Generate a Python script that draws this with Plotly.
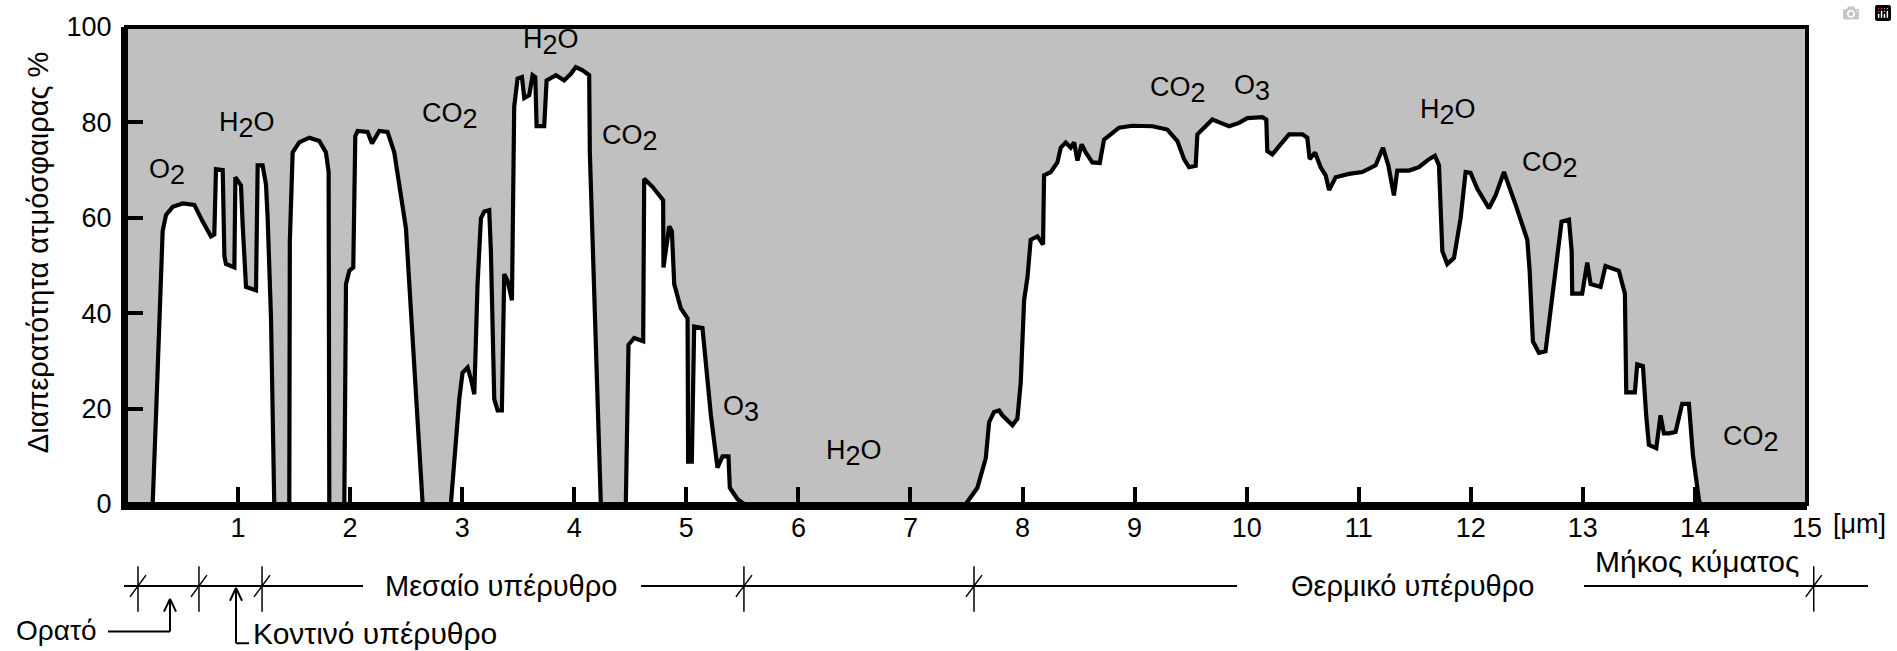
import plotly.graph_objects as go

# ---------------- data ----------------
# Atmospheric transmission (%) vs wavelength (µm), one list pair per window
band_a_um = [0.000, 0.238, 0.268, 0.298, 0.327, 0.357, 0.417, 0.506, 0.610, 0.684, 0.758, 0.788, 0.803, 0.863,
             0.878, 0.892, 0.967, 0.976, 1.026, 1.041, 1.071, 1.160, 1.175, 1.219, 1.249, 1.264, 1.294, 1.323]
band_a_pct = [0.0, 0.0, 18.6, 39.2, 57.2, 60.6, 62.3, 63.0, 62.7, 59.2, 56.1, 56.5, 70.2, 70.0,
              52.0, 50.3, 49.6, 68.5, 66.8, 58.5, 45.5, 44.8, 71.0, 71.0, 67.0, 60.0, 39.0, 0.0]

band_b_um = [1.457, 1.462, 1.487, 1.546, 1.636, 1.725, 1.784, 1.808, 1.814]
band_b_pct = [0.0, 55.0, 73.7, 75.8, 76.8, 76.1, 73.7, 69.6, 0.0]

band_c_um = [1.948, 1.963, 1.993, 2.028, 2.046, 2.067, 2.156, 2.195, 2.260, 2.334, 2.394, 2.468, 2.498, 2.647]
band_c_pct = [0.0, 46.1, 48.9, 49.6, 77.1, 78.2, 78.0, 75.6, 78.2, 78.0, 73.7, 62.7, 57.8, 0.0]

band_d_um = [2.899, 2.974, 3.003, 3.048, 3.078, 3.108, 3.137, 3.167, 3.197, 3.241, 3.256, 3.286, 3.316, 3.354,
             3.375, 3.405, 3.444, 3.464, 3.494, 3.533, 3.554, 3.598, 3.628, 3.652, 3.664, 3.732, 3.753, 3.836,
             3.910, 3.970, 4.014, 4.074, 4.133, 4.139, 4.237]
band_d_pct = [0.0, 22.0, 27.5, 28.6, 26.2, 23.0, 46.1, 59.9, 61.3, 61.6, 53.0, 22.0, 19.6, 19.6,
              48.2, 46.8, 42.7, 83.3, 89.2, 89.5, 85.1, 85.7, 89.9, 89.5, 79.2, 79.2, 88.8, 89.9,
              88.8, 90.2, 91.6, 90.9, 89.9, 73.7, 0.0]

band_e_um = [4.460, 4.484, 4.535, 4.615, 4.624, 4.698, 4.793, 4.796, 4.847, 4.871, 4.892, 4.951, 5.011, 5.016,
             5.049, 5.070, 5.144, 5.219, 5.278, 5.323, 5.376, 5.388, 5.457, 5.516]
band_e_pct = [0.0, 33.4, 34.8, 34.1, 68.2, 66.5, 63.7, 49.6, 58.2, 57.2, 46.1, 41.0, 38.9, 8.9,
              8.9, 37.2, 36.9, 18.6, 7.6, 10.0, 10.0, 3.4, 1.0, 0.0]

band_f_um = [7.494, 7.597, 7.672, 7.702, 7.746, 7.791, 7.820, 7.910, 7.954, 7.984,
             8.014, 8.044, 8.073, 8.133, 8.183, 8.192, 8.252, 8.311, 8.341, 8.385,
             8.430, 8.460, 8.490, 8.528, 8.564, 8.623, 8.689, 8.727, 8.787, 8.861,
             8.980, 9.159, 9.292, 9.382, 9.441, 9.486, 9.545, 9.560, 9.620, 9.694,
             9.768, 9.843, 9.932, 10.006, 10.140, 10.175, 10.184, 10.229, 10.303, 10.378,
             10.497, 10.541, 10.562, 10.610, 10.660, 10.705, 10.735, 10.794, 10.913, 11.032,
             11.151, 11.216, 11.264, 11.314, 11.344, 11.448, 11.537, 11.627, 11.680, 11.716,
             11.746, 11.790, 11.850, 11.909, 11.954, 11.998, 12.058, 12.162, 12.221, 12.296,
             12.400, 12.504, 12.525, 12.554, 12.608, 12.667, 12.712, 12.810, 12.876, 12.900,
             12.905, 12.994, 13.039, 13.069, 13.158, 13.202, 13.321, 13.375, 13.387, 13.464,
             13.485, 13.536, 13.565, 13.589, 13.655, 13.693, 13.723, 13.768, 13.827, 13.886,
             13.946, 13.982, 14.035, 14.045, 15.0]
band_f_pct = [0.0, 3.4, 9.6, 17.2, 19.3, 19.6, 18.6, 16.5, 17.9, 25.5,
              42.7, 47.5, 55.4, 56.1, 54.4, 68.9, 69.6, 71.6, 74.7, 75.8,
              74.7, 75.8, 72.0, 75.4, 73.7, 71.6, 71.5, 76.4, 77.5, 78.9,
              79.3, 79.2, 78.5, 76.1, 72.3, 70.6, 70.9, 77.5, 78.9, 80.6,
              79.9, 79.2, 79.9, 80.9, 81.1, 80.6, 74.0, 73.3, 75.4, 77.5,
              77.5, 76.8, 72.3, 73.7, 70.6, 68.9, 65.8, 68.5, 69.2, 69.6,
              71.0, 74.7, 71.0, 64.7, 69.9, 69.9, 70.6, 72.3, 73.0, 71.0,
              53.0, 50.3, 51.6, 59.9, 69.6, 69.4, 66.1, 62.0, 64.7, 69.6,
              62.7, 55.4, 48.9, 34.1, 31.7, 32.0, 40.6, 59.2, 59.6, 53.0,
              44.1, 44.1, 50.6, 46.1, 45.5, 49.9, 48.9, 44.1, 23.4, 23.4,
              29.3, 28.9, 18.6, 12.4, 11.7, 18.6, 14.8, 14.8, 15.1, 21.0,
              21.0, 10.3, 1.0, 0.0, 0.0]

x_tick_values = list(range(1, 16))
x_tick_labels = [str(v) for v in x_tick_values]
y_tick_values = [0, 20, 40, 60, 80, 100]
y_tick_labels = [str(v) for v in y_tick_values]

# absorber labels: (base, subscript digit, trailing text) and their position (µm, %)
absorber_parts = [("O", "2", ""), ("H", "2", "O"), ("CO", "2", ""), ("H", "2", "O"), ("CO", "2", ""),
                  ("O", "3", ""), ("H", "2", "O"), ("CO", "2", ""), ("O", "3", ""), ("H", "2", "O"),
                  ("CO", "2", ""), ("CO", "2", "")]
absorber_um = [0.37, 1.08, 2.89, 3.79, 4.50, 5.49, 6.50, 9.39, 10.05, 11.80, 12.71, 14.50]
absorber_pct = [69.6, 79.5, 81.3, 96.8, 76.8, 19.9, 10.6, 86.8, 87.3, 82.2, 71.0, 13.6]

# spectral-region boundaries drawn on the band below the axis (µm)
region_edges_um = [0.107, 0.651, 1.214, 5.514, 7.567, 15.06]

y_title = "Διαπερατότητα ατμόσφαιρας %"
unit_label = "[μm]"
region_mid_ir = "Μεσαίο υπέρυθρο"
region_thermal_ir = "Θερμικό υπέρυθρο"
wavelength_label = "Μήκος κύματος"
region_visible = "Ορατό"
region_near_ir = "Κοντινό υπέρυθρο"

# ---------------- layout geometry ----------------
W, H = 1897, 651
PX_L, PX_R, PX_T, PX_B = 126, 1807, 21, 504
X_RANGE = [0, 15]
Y_RANGE = [0, 100]
FONT = "Liberation Sans, Arial, sans-serif"
GRAY = "#c0c0c0"


def pxx(xp):
    return (xp - PX_L) / (PX_R - PX_L)


def pxy(yp):
    return (PX_B - yp) / (PX_B - PX_T)


def um_to_px(um):
    return PX_L + (um - X_RANGE[0]) / (X_RANGE[1] - X_RANGE[0]) * (PX_R - PX_L)


wavelength_um = band_a_um + band_b_um + band_c_um + band_d_um + band_e_um + band_f_um
transmission_pct = band_a_pct + band_b_pct + band_c_pct + band_d_pct + band_e_pct + band_f_pct

fig = go.Figure()
fig.add_trace(go.Scatter(
    x=wavelength_um, y=transmission_pct, mode="lines",
    line=dict(color="black", width=4.2, shape="linear"),
    fill="tozeroy", fillcolor="white", hoverinfo="skip", showlegend=False,
))

annotations = []
SUBFS = 27
for (base, dig, tail), xu, yp in zip(absorber_parts, absorber_um, absorber_pct):
    txt = f"{base}<sub><span style='font-size:{SUBFS}px'>{dig}</span></sub>{tail}"
    annotations.append(dict(x=xu, y=yp, xref="x", yref="y", text=txt, showarrow=False,
                            xanchor="center", yanchor="middle",
                            font=dict(family=FONT, size=27, color="black")))

annotations.append(dict(x=pxx(38), y=pxy(250), xref="paper", yref="paper", text=y_title,
                        textangle=-90, showarrow=False, xanchor="center", yanchor="middle",
                        font=dict(family=FONT, size=29, color="black")))
annotations.append(dict(x=pxx(1859), y=pxy(524), xref="paper", yref="paper", text=unit_label,
                        showarrow=False, xanchor="center", yanchor="middle",
                        font=dict(family=FONT, size=27, color="black")))
for txt, cx, cy, anchor, fs in [(region_mid_ir, 501, 587, "center", 29),
                                (region_thermal_ir, 1412, 587, "center", 29),
                                (wavelength_label, 1697, 562, "center", 30),
                                (region_visible, 56, 632, "center", 28),
                                (region_near_ir, 251, 635, "left", 30)]:
    annotations.append(dict(x=pxx(cx), y=pxy(cy), xref="paper", yref="paper", text=txt,
                            showarrow=False, xanchor=anchor, yanchor="middle",
                            font=dict(family=FONT, size=fs, color="black")))

shapes = []


def seg(x0, y0, x1, y1, width=2):
    shapes.append(dict(type="line", xref="paper", yref="paper",
                       x0=pxx(x0), y0=pxy(y0), x1=pxx(x1), y1=pxy(y1),
                       line=dict(color="black", width=width)))


# band line under the axis
BAND_Y = 587
for a, b in [(124, 363), (641, 1237), (1584, 1868)]:
    seg(a, BAND_Y, b, BAND_Y)
for um in region_edges_um:
    xp = um_to_px(um)
    seg(xp, 567, xp, 613, 1.5)
    seg(xp - 8, 598, xp + 8, 576, 1.5)

# brackets for visible / near infrared
seg(108, 633, 170, 633)
seg(170, 633, 170, 601)
seg(164, 613, 170, 600)
seg(170, 600, 176, 613)
seg(249, 645, 236, 645)
seg(236, 645, 236, 590)
seg(230, 602, 236, 589)
seg(236, 589, 242, 602)

# plot frame
shapes.append(dict(type="rect", xref="paper", yref="paper", x0=0, y0=0, x1=1, y1=1,
                   line=dict(color="black", width=4), layer="above"))

fig.update_layout(
    width=W, height=H, autosize=False,
    margin=dict(l=PX_L, r=W - PX_R, t=PX_T, b=H - PX_B, pad=0),
    paper_bgcolor="white", plot_bgcolor=GRAY,
    font=dict(family=FONT, size=27, color="black"),
    showlegend=False,
    annotations=annotations, shapes=shapes,
    xaxis=dict(range=X_RANGE, tickmode="array", tickvals=x_tick_values, ticktext=x_tick_labels,
               ticks="inside", ticklen=17, tickwidth=4, tickcolor="black",
               showline=True, linecolor="black", linewidth=6, showgrid=False, zeroline=False,
               tickfont=dict(family=FONT, size=27, color="black"), ticklabelstandoff=-5,
               fixedrange=True),
    yaxis=dict(range=Y_RANGE, tickmode="array", tickvals=y_tick_values, ticktext=y_tick_labels,
               ticks="inside", ticklen=17, tickwidth=4, tickcolor="black",
               showline=True, linecolor="black", linewidth=5, showgrid=False, zeroline=False,
               tickfont=dict(family=FONT, size=27, color="black"), ticklabelstandoff=4,
               fixedrange=True),
)

fig.write_html("out.html", post_script="document.body.style.margin='0';")
